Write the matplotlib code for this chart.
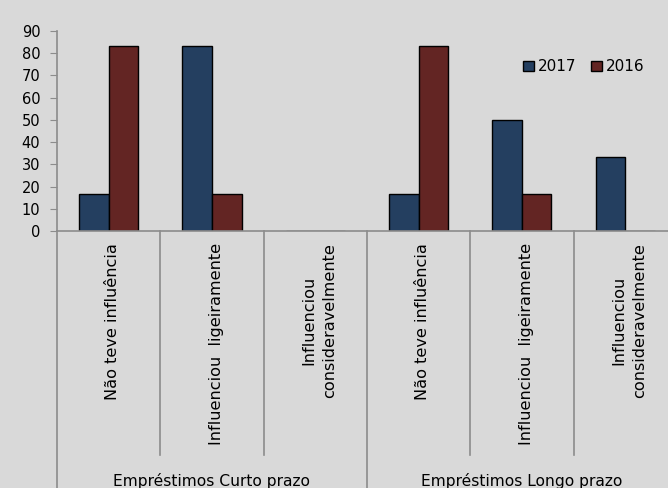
import numpy as np
import matplotlib.pyplot as plt
import matplotlib.transforms as mtransforms

# respostas (%) por tipo de empréstimo
categorias = ["Não teve influência", "Influenciou  ligeiramente", "Influenciou\nconsideravelmente",
              "Não teve influência", "Influenciou  ligeiramente", "Influenciou\nconsideravelmente"]
grupos = ["Empréstimos Curto prazo", "Empréstimos Longo prazo"]
v2017 = [16.7, 83.3, 0, 16.7, 50.0, 33.3]
v2016 = [83.3, 16.7, 0, 83.3, 16.7, 0]

fundo = "#d9d9d9"
cinza = "#8c8c8c"

fig = plt.figure(figsize=(6.68, 4.88), dpi=100, facecolor=fundo)
ax = fig.add_axes([0.0853, 0.5266, 0.928, 0.41])
ax.set_facecolor(fundo)

x = np.arange(len(categorias))
w = 0.286
ax.bar(x - w / 2, v2017, w, color="#243f60", edgecolor="black", linewidth=1, label="2017")
ax.bar(x + w / 2, v2016, w, color="#632523", edgecolor="black", linewidth=1, label="2016")

ax.set_xlim(-0.5, len(categorias) - 0.5)
ax.set_ylim(0, 90)
ax.set_yticks(range(0, 91, 10))
ax.tick_params(axis="y", direction="out", length=5, color=cinza, labelsize=10.5, pad=7)
ax.set_xticks([])
for s in ["top", "right"]:
    ax.spines[s].set_visible(False)
for s in ["left", "bottom"]:
    ax.spines[s].set_color(cinza)
    ax.spines[s].set_linewidth(1.2)

trans = mtransforms.blended_transform_factory(ax.transData, ax.transAxes)

# divisórias entre categorias e entre grupos
for i in range(len(categorias) + 1):
    xs = i - 0.5
    y_fim = -1.3 if i % 3 == 0 else -1.12
    ax.plot([xs, xs], [0, y_fim], color=cinza, lw=1.2, transform=trans, clip_on=False)

for i, lab in enumerate(categorias):
    ax.text(i + 0.04, -0.06, lab, rotation=90, ha="center", va="top", multialignment="center",
            fontsize=11.6, linespacing=1.5, transform=trans)

for g, nome in enumerate(grupos):
    ax.text(g * 3 + 1, -1.25, nome, ha="center", va="center", fontsize=11.2, transform=trans)

ax.legend(loc="center", bbox_to_anchor=(0.85, 0.82), ncol=2, frameon=False, fontsize=11,
          handlelength=0.7, handleheight=0.7, handletextpad=0.25, columnspacing=1.0)

fig.savefig("out.png", dpi=100, facecolor=fundo)
